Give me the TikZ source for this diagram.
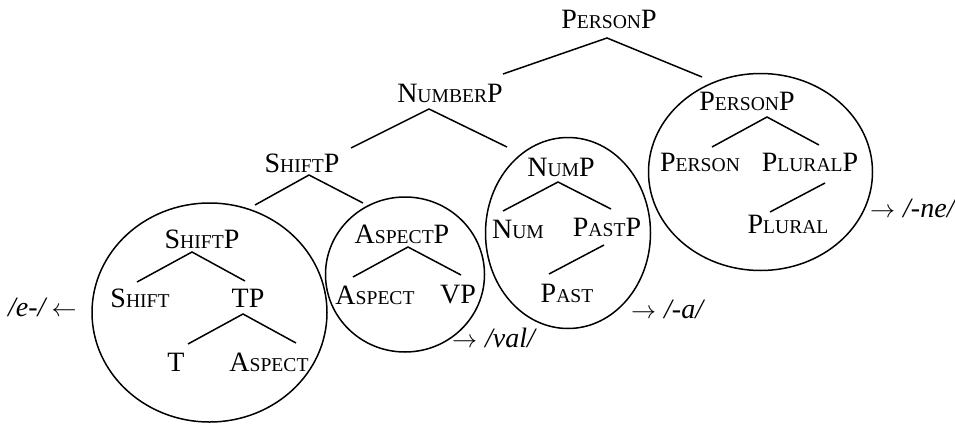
\documentclass[tikz,border=0pt]{standalone}
\usepackage{fontspec}
\setmainfont{Liberation Serif}
\usetikzlibrary{shapes.geometric}
% small capitals made from reduced upper-case letters
\newcommand\smallcap[1]{{\fontsize{19.6pt}{20pt}\selectfont #1}}
\newcommand\toright{\resizebox{25pt}{!}{$\rightarrow$}}
\newcommand\toleft{\resizebox{25pt}{!}{$\leftarrow$}}
\tikzset{
  lbl/.style={inner sep=0pt, anchor=base, font=\fontsize{28pt}{30pt}\selectfont},
  spell/.style={inner sep=0pt, anchor=base west, font=\fontsize{28pt}{30pt}\selectfont},
  branch/.style={line width=1.5pt},
  spellzone/.style={draw, ellipse, line width=1.5pt, inner sep=0pt}
}
\begin{document}
\begin{tikzpicture}[x=1pt,y=-1pt]
\useasboundingbox (0,0) rectangle (955,423);

% spell-out domains
\node[spellzone, minimum width=235pt, minimum height=219pt] (shiftDom)  at (209.5,312.5) {};
\node[spellzone, minimum width=159pt, minimum height=155pt] (aspectDom) at (405,274.5) {};
\node[spellzone, minimum width=165pt, minimum height=191pt] (numDom)    at (568,233) {};
\node[spellzone, minimum width=224pt, minimum height=197pt] (personDom) at (760.5,172) {};

% tree labels
\node[lbl] (ptop)    at (609,28)  {P\smallcap{ERSON}P};
\node[lbl] (numberp) at (450,102) {N\smallcap{UMBER}P};
\node[lbl] (shtop)   at (302,172) {S\smallcap{HIFT}P};
\node[lbl] (shin)    at (202,248) {S\smallcap{HIFT}P};
\node[lbl] (shhead)  at (140,307) {S\smallcap{HIFT}};
\node[lbl] (tp)      at (248,307) {TP};
\node[lbl] (t)       at (176,371) {T};
\node[lbl] (asplow)  at (269,371) {A\smallcap{SPECT}};
\node[lbl] (aspp)    at (402,243) {A\smallcap{SPECT}P};
\node[lbl] (asphead) at (375,304) {A\smallcap{SPECT}};
\node[lbl] (vp)      at (458,303) {VP};
\node[lbl] (nump)    at (561,176) {N\smallcap{UM}P};
\node[lbl] (num)     at (518,238) {N\smallcap{UM}};
\node[lbl] (pastp)   at (607,236) {P\smallcap{AST}P};
\node[lbl] (past)    at (567,302) {P\smallcap{AST}};
\node[lbl] (pin)     at (747,110) {P\smallcap{ERSON}P};
\node[lbl] (person)  at (700,171) {P\smallcap{ERSON}};
\node[lbl] (plurp)   at (810,171) {P\smallcap{LURAL}P};
\node[lbl] (plural)  at (788,233) {P\smallcap{LURAL}};

% exponents
\node[spell] (expE)  at (8,316)   {\textit{/e-/}\hspace{4pt}\toleft};
\node[spell] (expV)  at (452,347) {\toright\hspace{8pt}\textit{/val/}};
\node[spell] (expA)  at (631,318) {\toright\hspace{8pt}\textit{/-a/}};
\node[spell] (expNe) at (870,217) {\toright\hspace{8pt}\textit{/-ne/}};

% branches
\draw[branch] ([shift={(53,-28)}]numberp.base) -- ([shift={(-2,10)}]ptop.base) -- ([shift={(-45,-33)}]pin.base);
\draw[branch] ([shift={(49,-24)}]shtop.base) -- ([shift={(-21,7)}]numberp.base) -- ([shift={(-54,-29)}]nump.base);
\draw[branch] ([shift={(53,-43)}]shin.base) -- ([shift={(7,3)}]shtop.base) -- ([shift={(-39,-40)}]aspp.base);
\draw[branch] ([shift={(-3,-25)}]shhead.base) -- ([shift={(-10,4)}]shin.base) -- ([shift={(-3,-26)}]tp.base);
\draw[branch] ([shift={(12,-27)}]t.base) -- ([shift={(-5,7)}]tp.base) -- ([shift={(27,-28)}]asplow.base);
\draw[branch] ([shift={(-22,-27)}]asphead.base) -- ([shift={(6,4)}]aspp.base) -- ([shift={(3,-28)}]vp.base);
\draw[branch] ([shift={(-15,-27)}]num.base) -- ([shift={(-3,6)}]nump.base) -- ([shift={(4,-27)}]pastp.base);
\draw[branch] ([shift={(-3,9)}]pastp.base) -- ([shift={(-18,-28)}]past.base);
\draw[branch] ([shift={(12,-24)}]person.base) -- ([shift={(20,7)}]pin.base) -- ([shift={(9,-26)}]plurp.base);
\draw[branch] ([shift={(15,12)}]plurp.base) -- ([shift={(-18,-21)}]plural.base);
\end{tikzpicture}
\end{document}
